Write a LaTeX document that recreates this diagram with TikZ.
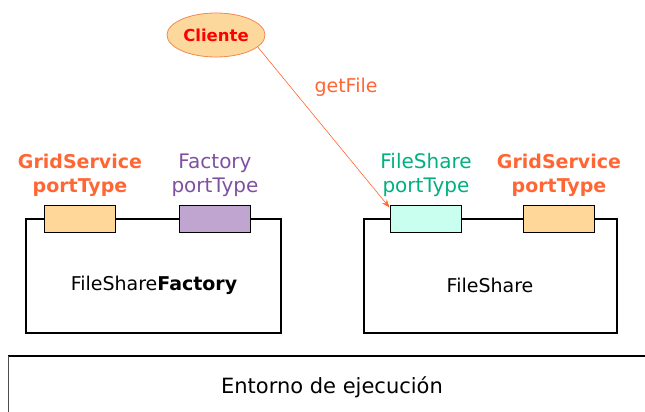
\documentclass[tikz,border=0pt]{standalone}
\usepackage{fontspec}
\setmainfont{DejaVu Sans}
\usetikzlibrary{shapes.geometric,arrows.meta}
\definecolor{gsorange}{HTML}{FF6633}
\definecolor{portorange}{HTML}{FFD899}
\definecolor{portviolet}{HTML}{C0A5D0}
\definecolor{portmint}{HTML}{C8FFEE}
\definecolor{labviolet}{HTML}{8050A0}
\definecolor{labgreen}{HTML}{00B080}
\definecolor{clientfill}{HTML}{FDD89C}
\definecolor{clientedge}{HTML}{F08850}
\tikzset{
  service/.style={draw=black, line width=1.3pt},
  port/.style={draw=black, line width=1pt, minimum width=71pt, minimum height=27pt, inner sep=0pt},
  portlabel/.style={align=center, font=\fontsize{20}{24}\selectfont},
  boldlabel/.style={align=center, font=\bfseries\fontsize{19}{24}\selectfont},
  bodylabel/.style={font=\fontsize{19}{22}\selectfont},
}
\begin{document}
\begin{tikzpicture}[x=1pt,y=-1pt]
  \useasboundingbox (0,0) rectangle (645,412);

  % client
  \node[ellipse, draw=clientedge, fill=clientfill, line width=0.8pt,
        minimum width=98pt, minimum height=44pt, inner sep=0pt,
        font=\bfseries\fontsize{16.5}{18}\selectfont, text=red] (cli) at (216,35) {Cliente};

  % FileShareFactory service
  \draw[service] (26,219) rectangle (281,333);
  \node[port, fill=portorange] (lgs) at (79.5,218.5) {};
  \node[port, fill=portviolet] (lfac) at (215,218.5) {};
  \node[boldlabel, text=gsorange] (lgsl) at (80,175) {GridService\\portType};
  \node[portlabel, text=labviolet] (lfacl) at (215,175) {Factory\\portType};
  \node[bodylabel] (lname) at (154,285) {FileShare\textbf{Factory}};

  % FileShare service
  \draw[service] (364,219) rectangle (617,333);
  \node[port, fill=portmint] (rfs) at (425.5,218.5) {};
  \node[port, fill=portorange] (rgs) at (558.5,218.5) {};
  \node[portlabel, text=labgreen] (rfsl) at (426,175) {FileShare\\portType};
  \node[boldlabel, text=gsorange] (rgsl) at (559,175) {GridService\\portType};
  \node[bodylabel] (rname) at (490,285) {FileShare};

  % call from the client
  \draw[gsorange, line width=0.6pt, -{Stealth[length=8pt,width=6pt]}] (cli.-16) -- ([yshift=-3pt]rfs.north west);
  \node[text=gsorange, font=\fontsize{19}{22}\selectfont] (call) at (346,87) {getFile};

  % execution environment
  \draw[line width=1.6pt] (8,356) -- (645,356);
  \draw[line width=0.6pt, black!70] (8,356) -- (8,412);
  \node[font=\fontsize{21}{24}\selectfont] (env) at (332,387) {Entorno de ejecución};
\end{tikzpicture}
\end{document}
